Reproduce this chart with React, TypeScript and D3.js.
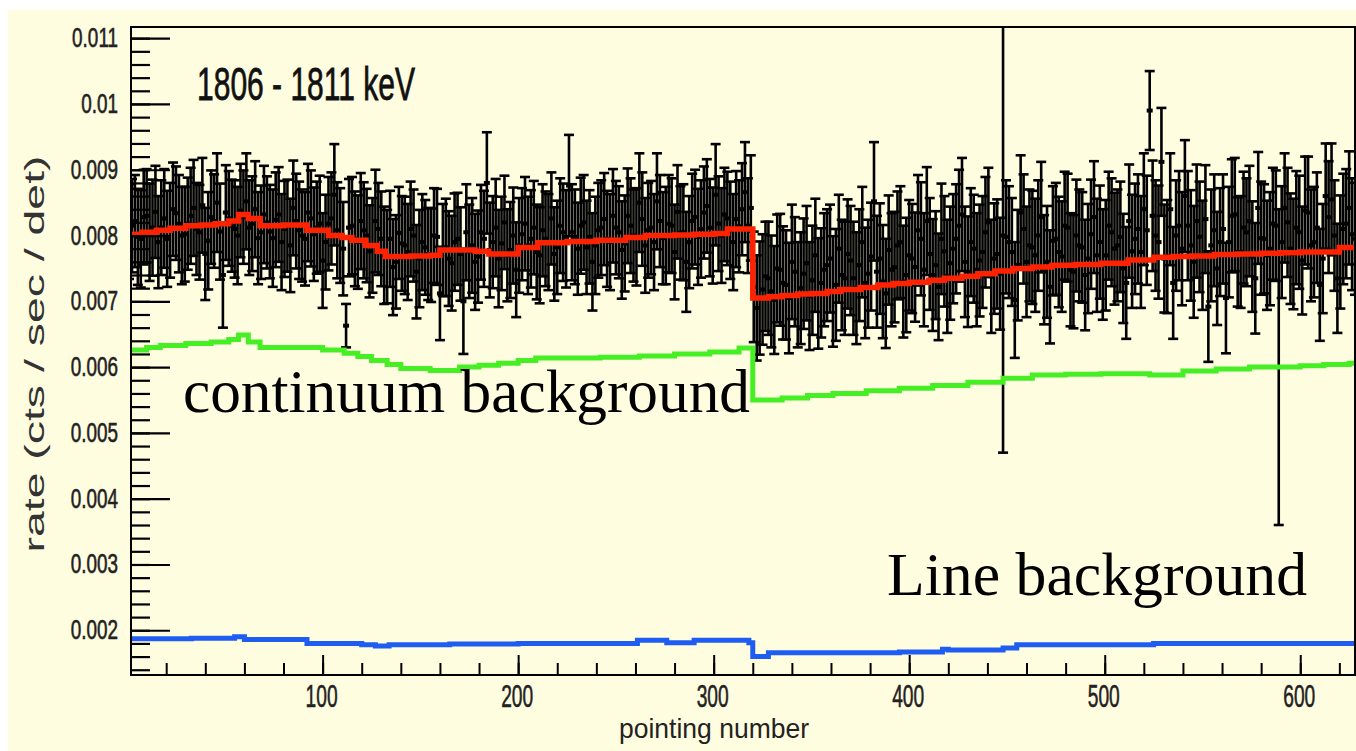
import React, { useEffect, useRef } from 'react'
import * as d3 from 'd3'

// rates are kept in units of 1e-5 cts / sec / det
const UNIT = 1e-5

// measured rate, read every 1.5 pointings as two interleaved samplings
// sampling A: pointings 1, 4, 7 ... 628
const pointingStartA = 1
const pointingStep = 3
const rateA = [
  806, 822, 795, 830, 812, 790, 826, 808, 834, 800,
  818, 842, 805, 772, 828, 850, 740, 826, 810, 838,
  852, 818, 796, 832, 806, 824, 790, 815, 842, 808,
  795, 826, 812, 762, 818, 862, 800, 663, 815, 790,
  808, 776, 822, 795, 768, 752, 804, 785, 810, 745,
  790, 772, 800, 712, 782, 758, 795, 700, 776, 760,
  805, 880, 790, 765, 820, 778, 748, 802, 785, 812,
  770, 795, 826, 782, 805, 876, 798, 815, 782, 760,
  808, 825, 790, 812, 778, 830, 800, 850, 785, 812,
  852, 796, 818, 775, 804, 760, 822, 798, 835, 812,
  862, 800, 826, 790, 814, 866, 842, 690, 718, 735,
  702, 748, 725, 760, 710, 742, 708, 770, 728, 755,
  715, 780, 735, 762, 720, 790, 742, 852, 765, 712,
  748, 785, 730, 770, 752, 795, 822, 740, 722, 776,
  758, 795, 832, 745, 780, 762, 805, 738, 772, 800,
  790, 702, 835, 760, 782, 800, 748, 722, 795, 768,
  812, 745, 785, 740, 802, 770, 756, 815, 780, 798,
  728, 776, 810, 840, 990, 800, 912, 768, 728, 815,
  860, 785, 822, 770, 692, 808, 790, 705, 830, 775,
  812, 822, 735, 796, 770, 818, 600, 842, 780, 812,
  762, 835, 790, 725, 860, 855, 735, 810, 842, 795
]
const rateErrA = [
  72, 70, 74, 71, 73, 70, 75, 72, 71, 74,
  70, 73, 72, 70, 71, 75, 80, 72, 74, 71,
  73, 72, 70, 74, 71, 72, 73, 70, 72, 74,
  71, 73, 70, 72, 71, 77, 72, 33, 74, 71,
  73, 70, 78, 72, 71, 73, 70, 74, 72, 71,
  73, 70, 72, 71, 74, 72, 70, 80, 71, 73,
  72, 77, 70, 74, 71, 73, 72, 70, 74, 71,
  73, 72, 70, 71, 74, 77, 72, 73, 71, 74,
  72, 70, 73, 71, 74, 72, 70, 75, 72, 71,
  73, 70, 74, 72, 71, 76, 72, 73, 70, 74,
  77, 72, 71, 73, 70, 76, 80, 80, 84, 86,
  82, 85, 83, 87, 80, 84, 82, 86, 83, 85,
  84, 82, 86, 83, 85, 84, 82, 90, 84, 83,
  86, 82, 85, 84, 83, 86, 82, 85, 81, 84,
  86, 83, 86, 84, 82, 85, 84, 86, 83, 330,
  85, 88, 87, 84, 86, 84, 83, 86, 85, 84,
  82, 86, 85, 84, 83, 86, 84, 82, 85, 84,
  85, 86, 83, 85, 60, 84, 82, 86, 85, 83,
  85, 84, 86, 83, 84, 85, 82, 84, 86, 83,
  85, 84, 84, 86, 83, 85, 240, 83, 84, 86,
  82, 85, 84, 85, 80, 85, 83, 84, 86, 85
]
// sampling B: pointings 2.5, 5.5, 8.5 ... 626.5
const pointingStartB = 2.5
const rateB = [
  815, 798, 828, 805, 836, 812, 795, 840, 818, 802,
  830, 810, 846, 792, 822, 806, 835, 815, 800, 828,
  812, 840, 805, 820, 796, 832, 810, 785, 822, 800,
  835, 802, 818, 790, 826, 808, 780, 812, 795, 822,
  800, 785, 810, 770, 795, 760, 788, 775, 800, 765,
  782, 770, 798, 778, 765, 790, 772, 805, 785, 768,
  795, 778, 812, 788, 770, 800, 785, 818, 795, 775,
  808, 790, 772, 815, 795, 805, 780, 820, 798, 785,
  812, 795, 830, 805, 788, 815, 798, 825, 808, 790,
  822, 800, 815, 836, 805, 790, 828, 810, 845, 800,
  818, 832, 808, 825, 840, 815, 722, 705, 738, 715,
  750, 728, 705, 745, 720, 758, 732, 712, 748, 765,
  725, 740, 772, 735, 755, 728, 768, 745, 730, 778,
  752, 790, 740, 765, 808, 748, 772, 755, 795, 738,
  780, 815, 760, 790, 748, 775, 820, 765, 742, 798,
  775, 755, 810, 785, 770, 828, 760, 792, 775, 815,
  748, 800, 782, 765, 828, 790, 770, 805, 785, 750,
  822, 795, 775, 808, 830, 790, 765, 840, 800, 780,
  815, 760, 798, 825, 785, 750, 810, 790, 832, 775,
  805, 768, 842, 795, 780, 815, 790, 820, 772, 805,
  838, 785, 812, 765, 828, 800, 775, 818, 802
]
const rateErrB = [
  71, 73, 72, 74, 70, 72, 73, 71, 74, 72,
  73, 70, 72, 74, 71, 73, 72, 70, 74, 71,
  72, 73, 71, 70, 74, 72, 73, 71, 72, 70,
  74, 71, 73, 72, 70, 73, 71, 74, 72, 73,
  71, 72, 70, 74, 73, 71, 72, 73, 70, 74,
  72, 71, 73, 70, 72, 74, 71, 73, 72, 70,
  73, 72, 74, 71, 70, 73, 72, 71, 74, 72,
  70, 73, 71, 72, 74, 73, 70, 72, 71, 74,
  72, 73, 71, 70, 73, 72, 74, 71, 72, 73,
  70, 74, 72, 71, 73, 70, 72, 74, 71, 73,
  72, 71, 74, 73, 70, 72, 84, 86, 83, 85,
  82, 86, 84, 83, 85, 87, 83, 84, 86, 82,
  85, 84, 83, 86, 85, 84, 82, 85, 86, 83,
  84, 85, 87, 83, 84, 86, 85, 82, 84, 86,
  83, 85, 84, 82, 86, 85, 83, 84, 85, 86,
  82, 84, 83, 85, 86, 84, 85, 83, 84, 82,
  86, 85, 84, 83, 85, 86, 84, 82, 85, 83,
  86, 84, 85, 83, 84, 86, 82, 85, 84, 86,
  83, 85, 84, 82, 85, 86, 83, 84, 86, 85,
  82, 84, 85, 83, 86, 84, 85, 83, 84, 86,
  82, 85, 84, 83, 85, 84, 86, 83, 85
]

// fitted model (step functions of pointing number)
const totalPointing = [2, 8, 15, 22, 30, 38, 45, 52, 57, 62, 68, 80, 92, 103, 110, 115, 122, 128, 132, 145, 155, 160, 178, 185, 200, 210, 225, 240, 255, 265, 280, 290, 300, 307, 320, 328, 335, 343, 350, 358, 365, 375, 384, 392, 400, 410, 418, 427, 435, 444, 453, 463, 473, 485, 498, 512, 525, 535, 545, 556, 568, 580, 590, 600, 609, 620, 628]
const totalRate = [802, 805, 808, 811, 815, 816, 818, 822, 832, 826, 815, 816, 808, 800, 797, 793, 785, 776, 768, 769, 770, 778, 776, 772, 782, 789, 791, 793, 797, 800, 801, 802, 803, 810, 705, 707, 709, 711, 712, 715, 718, 721, 725, 727, 729, 732, 735, 738, 742, 746, 750, 752, 755, 756, 758, 763, 767, 768, 769, 771, 772, 773, 774, 775, 775, 782, 782]
const continuumPointing = [2, 10, 17, 30, 43, 52, 57, 62, 68, 86, 100, 111, 118, 125, 133, 140, 155, 170, 180, 190, 200, 209, 242, 262, 280, 298, 313, 320, 335, 348, 361, 378, 395, 412, 430, 448, 463, 480, 498, 523, 540, 557, 574, 600, 612, 625, 628]
const continuumRate = [626, 630, 633, 636, 638, 642, 649, 638, 630, 630, 626, 621, 616, 610, 604, 598, 595, 600, 603, 606, 610, 614, 615, 617, 620, 623, 629, 550, 553, 557, 560, 564, 568, 572, 577, 583, 588, 589, 590, 588, 594, 597, 600, 602, 604, 606, 606]
const linePointing = [2, 33, 55, 60, 92, 120, 127, 134, 165, 200, 261, 276, 290, 318, 320, 328, 395, 417, 420, 448, 455, 525, 628]
const lineRate = [187, 188, 190, 186, 180, 178, 176, 178, 179, 180, 185, 181, 185, 181, 160, 166, 167, 171, 170, 173, 178, 180, 180]

const yTicks = [0.002, 0.003, 0.004, 0.005, 0.006, 0.007, 0.008, 0.009, 0.01, 0.011]
const yTickLabels = ['0.002', '0.003', '0.004', '0.005', '0.006', '0.007', '0.008', '0.009', '0.01', '0.011']
const xTicks = [100, 200, 300, 400, 500, 600]
const xTickLabels = ['100', '200', '300', '400', '500', '600']

const title = '1806 - 1811 keV'
const yTitle = 'rate (cts / sec / det)'
const xTitle = 'pointing number'
const continuumLabel = 'continuum background'
const lineLabel = 'Line background'

const W = 1356
const H = 751
const frame = { left: 131, top: 27, right: 1355, bottom: 675 }
const rootFont = "'Liberation Sans', Arial, sans-serif"
const serifFont = "'Liberation Serif', 'Times New Roman', serif"

export default function App () {
  const ref = useRef<SVGSVGElement>(null)

  useEffect(() => {
    const svg = d3.select(ref.current)
    svg.selectAll('*').remove()

    const x = d3.scaleLinear().domain([2, 628]).range([frame.left, frame.right])
    const y = d3.scaleLinear().domain([0.00132, 0.01117]).range([frame.bottom, frame.top])

    // pad
    svg.append('rect')
      .attr('x', 8).attr('y', 10)
      .attr('width', W - 8).attr('height', H - 10)
      .attr('fill', '#fffde0')

    svg.append('clipPath').attr('id', 'plot-clip')
      .append('rect')
      .attr('x', frame.left).attr('y', frame.top)
      .attr('width', frame.right - frame.left).attr('height', frame.bottom - frame.top)

    const plot = svg.append('g').attr('clip-path', 'url(#plot-clip)')

    // data points with error bars
    const toPts = (vals: number[], errs: number[], start: number) => vals.map((r, i) => ({
      p: start + i * pointingStep,
      v: r * UNIT,
      e: (errs[i] ?? 80) * UNIT
    }))
    const pts = [
      ...toPts(rateA, rateErrA, pointingStartA),
      ...toPts(rateB, rateErrB, pointingStartB)
    ]
    const bars = plot.append('g').attr('stroke', '#000')
    bars.selectAll('line.bar').data(pts).join('line')
      .attr('class', 'bar')
      .attr('x1', d => x(d.p)).attr('x2', d => x(d.p))
      .attr('y1', d => y(d.v - d.e)).attr('y2', d => y(d.v + d.e))
      .attr('stroke-width', 2.6)
    const capW = 5
    bars.selectAll('line.top').data(pts).join('line')
      .attr('class', 'top')
      .attr('x1', d => x(d.p) - capW).attr('x2', d => x(d.p) + capW)
      .attr('y1', d => y(d.v + d.e)).attr('y2', d => y(d.v + d.e))
      .attr('stroke-width', 2.6)
    bars.selectAll('line.bot').data(pts).join('line')
      .attr('class', 'bot')
      .attr('x1', d => x(d.p) - capW).attr('x2', d => x(d.p) + capW)
      .attr('y1', d => y(d.v - d.e)).attr('y2', d => y(d.v - d.e))
      .attr('stroke-width', 2.6)
    bars.selectAll('line.mid').data(pts).join('line')
      .attr('class', 'mid')
      .attr('x1', d => x(d.p) - 3).attr('x2', d => x(d.p) + 3)
      .attr('y1', d => y(d.v)).attr('y2', d => y(d.v))
      .attr('stroke-width', 4)

    // model curves
    const step = d3.line<[number, number]>()
      .x(d => x(d[0]))
      .y(d => y(d[1] * UNIT))
      .curve(d3.curveStepAfter)

    const models: [number[], number[], string, number][] = [
      [continuumPointing, continuumRate, '#46ee24', 5],
      [linePointing, lineRate, '#1f5cf2', 5],
      [totalPointing, totalRate, '#ff2200', 5.5]
    ]
    models.forEach(([ps, vs, color, w]) => {
      plot.append('path')
        .datum(ps.map((p, i) => [p, vs[i]] as [number, number]))
        .attr('d', step)
        .attr('fill', 'none')
        .attr('stroke', color)
        .attr('stroke-width', w)
    })

    // frame
    svg.append('rect')
      .attr('x', frame.left).attr('y', frame.top)
      .attr('width', frame.right - frame.left).attr('height', frame.bottom - frame.top)
      .attr('fill', 'none').attr('stroke', '#000').attr('stroke-width', 2)

    // y axis ticks (pointing inwards)
    const yMinor = d3.range(7, 56).map(i => i * 0.0002)
    svg.append('g')
      .attr('transform', `translate(${frame.left},0)`)
      .call(d3.axisRight(y).tickValues(yMinor).tickSize(19).tickFormat(() => ''))
      .call(g => g.select('.domain').remove())
      .call(g => g.selectAll('line').attr('stroke-width', 2.2))
    svg.append('g')
      .attr('transform', `translate(${frame.left},0)`)
      .call(d3.axisRight(y).tickValues(yTicks).tickSize(39).tickFormat(() => ''))
      .call(g => g.select('.domain').remove())
      .call(g => g.selectAll('line').attr('stroke-width', 2.2))

    // x axis ticks (pointing inwards)
    const xMinor = d3.range(1, 32).map(i => i * 20)
    svg.append('g')
      .attr('transform', `translate(0,${frame.bottom})`)
      .call(d3.axisTop(x).tickValues(xMinor).tickSize(12).tickFormat(() => ''))
      .call(g => g.select('.domain').remove())
      .call(g => g.selectAll('line').attr('stroke-width', 2))
    svg.append('g')
      .attr('transform', `translate(0,${frame.bottom})`)
      .call(d3.axisTop(x).tickValues(xTicks).tickSize(20).tickFormat(() => ''))
      .call(g => g.select('.domain').remove())
      .call(g => g.selectAll('line').attr('stroke-width', 2))

    // tick labels, narrow like the ROOT font
    svg.append('g').selectAll('g').data(yTicks).join('g')
      .attr('transform', d => `translate(118,${y(d) + 9}) scale(0.7,1)`)
      .append('text')
      .attr('text-anchor', 'end')
      .attr('font-family', rootFont)
      .attr('font-size', 27)
      .attr('fill', '#222')
      .attr('stroke', '#222').attr('stroke-width', 0.6)
      .text((d, i) => yTickLabels[i])

    svg.append('g').selectAll('g').data(xTicks).join('g')
      .attr('transform', d => `translate(${x(d) - 1},707) scale(0.6,1)`)
      .append('text')
      .attr('text-anchor', 'middle')
      .attr('font-family', rootFont)
      .attr('font-size', 32)
      .attr('fill', '#222')
      .attr('stroke', '#222').attr('stroke-width', 0.6)
      .text((d, i) => xTickLabels[i])

    // titles
    svg.append('text')
      .attr('x', 197).attr('y', 100)
      .attr('font-family', rootFont).attr('font-size', 47)
      .attr('textLength', 218).attr('lengthAdjust', 'spacingAndGlyphs')
      .attr('fill', '#111').attr('stroke', '#111').attr('stroke-width', 0.8)
      .text(title)

    svg.append('text')
      .attr('transform', 'translate(44,354) rotate(-90)')
      .attr('text-anchor', 'middle')
      .attr('font-family', rootFont).attr('font-size', 28)
      .attr('textLength', 397).attr('lengthAdjust', 'spacingAndGlyphs')
      .attr('fill', '#333')
      .text(yTitle)

    svg.append('text')
      .attr('x', 714).attr('y', 738)
      .attr('text-anchor', 'middle')
      .attr('font-family', rootFont).attr('font-size', 28)
      .attr('textLength', 190).attr('lengthAdjust', 'spacingAndGlyphs')
      .attr('fill', '#222')
      .text(xTitle)

    // annotations
    svg.append('text')
      .attr('x', 183).attr('y', 412)
      .attr('font-family', serifFont).attr('font-size', 61)
      .attr('textLength', 567).attr('lengthAdjust', 'spacingAndGlyphs')
      .attr('fill', '#000')
      .text(continuumLabel)

    svg.append('text')
      .attr('x', 887).attr('y', 595)
      .attr('font-family', serifFont).attr('font-size', 61)
      .attr('textLength', 420).attr('lengthAdjust', 'spacingAndGlyphs')
      .attr('fill', '#000')
      .text(lineLabel)
  }, [])

  return (
    <svg
      ref={ref}
      width={W}
      height={H}
      style={{ position: 'absolute', left: 0, top: 0, display: 'block', background: '#fff' }}
    />
  )
}
